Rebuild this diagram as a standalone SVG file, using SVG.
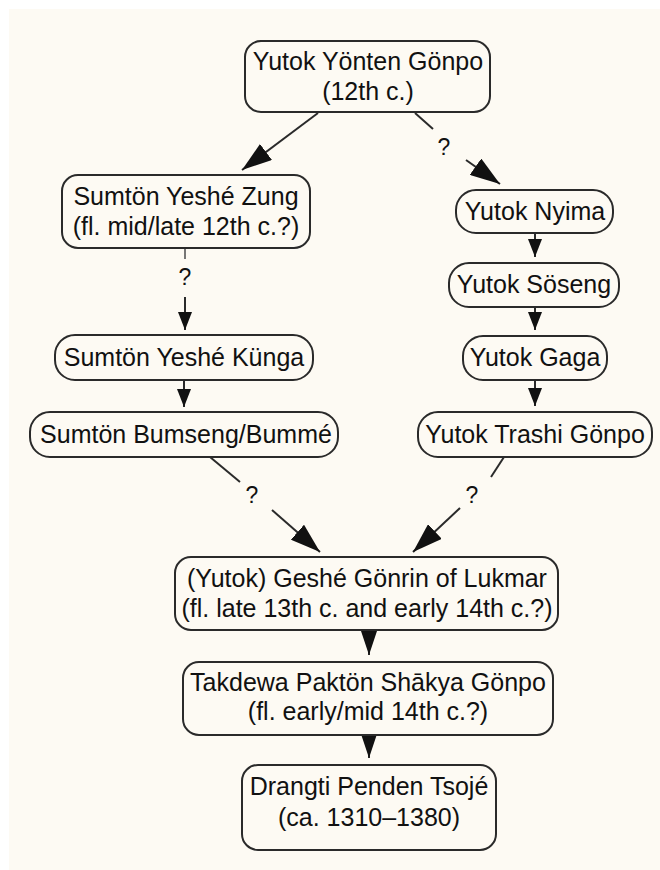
<svg xmlns="http://www.w3.org/2000/svg" width="660" height="870" viewBox="0 0 660 870">
  <style>
    .box { fill: #fdfaf3; stroke: #2a2a2a; stroke-width: 2; }
    .lbl { font-family: "Liberation Sans", Arial, Helvetica, sans-serif; font-size: 25px; fill: #111; text-anchor: middle; }
    .q { font-family: "Liberation Sans", Arial, Helvetica, sans-serif; font-size: 23px; fill: #111; text-anchor: middle; }
    .edge { stroke: #2a2a2a; stroke-width: 2; fill: none; }
    .stub { stroke: #555; stroke-width: 1.6; fill: none; }
  </style>
  <defs>
    <marker id="big" markerUnits="userSpaceOnUse" markerWidth="30" markerHeight="20" refX="30" refY="10" orient="auto">
      <path d="M0,0 L30,10 L0,20 z" fill="#111"/>
    </marker>
    <marker id="small" markerUnits="userSpaceOnUse" markerWidth="18" markerHeight="14" refX="18" refY="7" orient="auto">
      <path d="M0,0 L18,7 L0,14 z" fill="#111"/>
    </marker>
    <marker id="wide" markerUnits="userSpaceOnUse" markerWidth="24" markerHeight="16" refX="24" refY="8" orient="auto">
      <path d="M0,0 L24,8 L0,16 z" fill="#111"/>
    </marker>
  </defs>

  <!-- paper -->
  <rect x="0" y="0" width="660" height="870" fill="#ffffff"/>
  <rect x="9" y="9" width="651" height="861" fill="#fdfaf3"/>

  <!-- connectors -->
  <g id="connectors">
    <!-- Yönten Gönpo to Yeshé Zung -->
    <line class="edge" x1="318" y1="113" x2="242" y2="170" marker-end="url(#big)"/>
    <!-- Yönten Gönpo to Nyima (uncertain) -->
    <line class="edge" x1="415" y1="113" x2="433" y2="129"/>
    <text class="q" x="444" y="155">?</text>
    <line class="edge" x1="466" y1="160" x2="500" y2="184" marker-end="url(#big)"/>
    <!-- Yeshé Zung to Yeshé Künga (uncertain) -->
    <line class="stub" x1="185" y1="248" x2="185" y2="259"/>
    <text class="q" x="185" y="285">?</text>
    <line class="edge" x1="185" y1="297" x2="185" y2="330" marker-end="url(#small)"/>
    <!-- Yeshé Künga to Bumseng -->
    <line class="edge" x1="184" y1="380" x2="184" y2="407" marker-end="url(#small)"/>
    <!-- right column -->
    <line class="edge" x1="535" y1="233" x2="535" y2="257" marker-end="url(#small)"/>
    <line class="edge" x1="535" y1="307" x2="535" y2="330" marker-end="url(#small)"/>
    <line class="edge" x1="535" y1="380" x2="535" y2="406" marker-end="url(#small)"/>
    <!-- Bumseng to Gönrin (uncertain) -->
    <line class="edge" x1="210" y1="457" x2="240" y2="482"/>
    <text class="q" x="252" y="503">?</text>
    <line class="edge" x1="272" y1="510" x2="320" y2="552" marker-end="url(#big)"/>
    <!-- Trashi Gönpo to Gönrin (uncertain) -->
    <line class="edge" x1="504" y1="457" x2="491" y2="477"/>
    <text class="q" x="472" y="503">?</text>
    <line class="edge" x1="460" y1="508" x2="413" y2="552" marker-end="url(#big)"/>
    <!-- lower chain -->
    <line class="edge" x1="369" y1="630" x2="369" y2="655" marker-end="url(#wide)"/>
    <line class="edge" x1="369" y1="735" x2="369" y2="758" marker-end="url(#wide)"/>
  </g>

  <g id="yonten-gonpo">
    <rect class="box" x="245" y="41" width="245" height="71" rx="16"/>
    <text class="lbl" x="368" y="70">Yutok Yönten Gönpo</text>
    <text class="lbl" x="368" y="100">(12th c.)</text>
  </g>
  <g id="yeshe-zung">
    <rect class="box" x="62" y="175" width="248" height="73" rx="16"/>
    <text class="lbl" x="186" y="205">Sumtön Yeshé Zung</text>
    <text class="lbl" x="186" y="235">(fl. mid/late 12th c.?)</text>
  </g>
  <g id="yeshe-kunga">
    <rect class="box" x="55" y="335" width="258" height="45" rx="20"/>
    <text class="lbl" x="184" y="366">Sumtön Yeshé Künga</text>
  </g>
  <g id="bumseng">
    <rect class="box" x="30" y="412" width="308" height="45" rx="20"/>
    <text class="lbl" x="186" y="443">Sumtön Bumseng/Bummé</text>
  </g>
  <g id="nyima">
    <rect class="box" x="456" y="190" width="157" height="43" rx="20"/>
    <text class="lbl" x="535" y="220">Yutok Nyima</text>
  </g>
  <g id="soseng">
    <rect class="box" x="449" y="263" width="170" height="44" rx="20"/>
    <text class="lbl" x="534" y="293">Yutok Söseng</text>
  </g>
  <g id="gaga">
    <rect class="box" x="463" y="336" width="144" height="44" rx="20"/>
    <text class="lbl" x="535" y="366">Yutok Gaga</text>
  </g>
  <g id="trashi-gonpo">
    <rect class="box" x="418" y="412" width="234" height="45" rx="20"/>
    <text class="lbl" x="535" y="443">Yutok Trashi Gönpo</text>
  </g>
  <g id="gonrin">
    <rect class="box" x="175" y="557" width="383" height="73" rx="16"/>
    <text class="lbl" x="367" y="587">(Yutok) Geshé Gönrin of Lukmar</text>
    <text class="lbl" x="367" y="617">(fl. late 13th c. and early 14th c.?)</text>
  </g>
  <g id="takdewa">
    <rect class="box" x="183" y="662" width="370" height="73" rx="16"/>
    <text class="lbl" x="368" y="691">Takdewa Paktön Shākya Gönpo</text>
    <text class="lbl" x="368" y="720">(fl. early/mid 14th c.?)</text>
  </g>
  <g id="drangti">
    <rect class="box" x="242" y="765" width="254" height="85" rx="16"/>
    <text class="lbl" x="369" y="795">Drangti Penden Tsojé</text>
    <text class="lbl" x="369" y="826">(ca. 1310–1380)</text>
  </g>
</svg>
